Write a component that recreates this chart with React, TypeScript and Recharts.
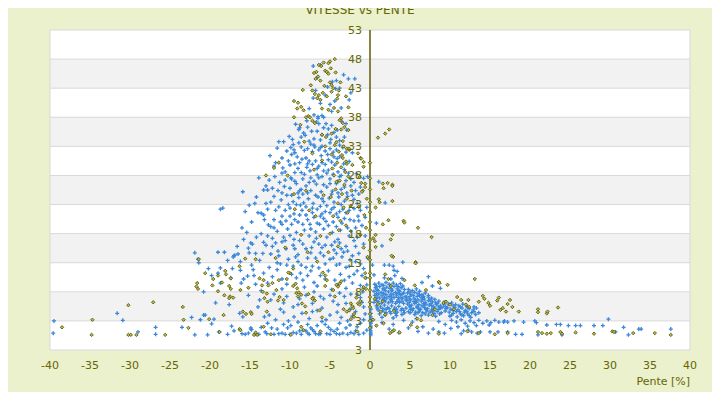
import { ScatterChart, Scatter, XAxis, YAxis, CartesianGrid, ReferenceLine, ReferenceDot } from 'recharts';

const TEXT = '#666600';
const BLUE = '#3b87d9';
const OLIVE = '#5c5c00';
const OLIVE_FILL = '#b8b860';

const xTicks = [-40, -35, -30, -25, -20, -15, -10, -5, 0, 5, 10, 15, 20, 25, 30, 35, 40];
const yTicks = [-2, 3, 8, 13, 18, 23, 28, 33, 38, 43, 48, 53];
// labels as printed in the original, bottom to top
const yTickLabels = ['3', '3', '8', '13', '18', '23', '28', '33', '38', '43', '48', '53'];

// blue series (+), downhill side
const blueTop = [
  [-7.1, 46.8], [-6.2, 47.0], [-3.3, 45.3], [-2.7, 44.6], [-1.9, 44.6], [-4.7, 44.1], [-4.2, 44.3], [-5.3, 43.2],
  [-4.3, 42.9], [-6.6, 44.8], [-3.8, 43.0], [-2.6, 41.0], [-7.1, 41.3], [-6.2, 40.4], [-5.0, 40.2], [-4.8, 39.0],
  [-7.0, 38.4], [-6.5, 38.1], [-6.0, 38.3], [-5.8, 38.0], [-3.6, 39.6], [-2.4, 42.2], [-5.6, 41.8], [-7.6, 39.5],
  [-6.8, 42.6], [-4.4, 40.8],
  [-6.7, 37.2], [-6.4, 36.9], [-5.5, 36.9], [-5.2, 36.0], [-7.8, 36.3], [-4.5, 35.4], [-4.2, 34.6], [-3.8, 34.0],
  [-3.8, 33.2], [-8.3, 35.3], [-8.6, 34.6], [-11.4, 33.8], [-10.8, 33.8], [-9.3, 36.8], [-6.0, 35.0], [-7.0, 34.3],
  [-5.0, 33.6], [-7.4, 33.4], [-9.6, 33.3], [-6.5, 37.8], [-8.9, 35.9], [-2.9, 35.8], [-3.0, 36.9], [-10.1, 34.7],
  [-7.9, 37.4],
];

const blueMid = [
  [-11.6, 32.7], [-9.9, 32.8], [-9.5, 32.4], [-9.1, 31.2], [-9.4, 31.9], [-8.6, 32.9], [-8.2, 32.3], [-7.8, 32.6],
  [-7.2, 32.1], [-6.9, 32.9], [-6.4, 32.4], [-6.0, 33.0], [-5.6, 32.2], [-5.0, 32.6], [-4.6, 32.0], [-4.2, 32.4],
  [-8.0, 31.0], [-7.6, 30.5], [-7.2, 29.9], [-6.8, 30.5], [-6.4, 29.6], [-6.0, 30.2], [-5.6, 29.9], [-5.2, 30.7],
  [-4.8, 30.3], [-4.4, 29.8], [-3.8, 31.2], [-9.4, 30.0], [-9.0, 29.2], [-8.6, 28.5], [-9.4, 28.5], [-10.9, 29.3],
  [-10.6, 28.6], [-9.9, 27.6], [-12.5, 31.4], [-11.0, 31.0], [-3.2, 29.0], [-2.6, 30.4], [-2.2, 31.9], [-1.7, 28.3],
  [-5.4, 28.4], [-6.6, 28.1], [-7.5, 28.8], [-8.2, 28.2], [-4.0, 28.6], [-3.4, 32.8], [-12.0, 29.6], [-10.2, 30.5],
  [-13.9, 27.6], [-13.3, 25.5], [-12.8, 25.5], [-15.9, 25.2], [-11.3, 26.8], [-10.7, 26.1], [-10.0, 25.8], [-9.2, 26.6],
  [-8.6, 25.6], [-8.0, 26.2], [-7.4, 25.4], [-6.7, 26.5], [-6.1, 25.2], [-5.4, 26.0], [-4.7, 25.3], [-4.2, 26.6],
  [-3.6, 25.6], [-2.9, 25.0], [-2.4, 26.2], [-12.0, 24.4], [-11.1, 23.8], [-10.4, 24.6], [-9.6, 23.5], [-8.9, 24.2],
  [-8.3, 23.3], [-7.7, 24.0], [-7.1, 23.2], [-6.5, 24.3], [-5.8, 23.5], [-5.1, 24.1], [-4.5, 23.4], [-3.9, 24.3],
  [-3.2, 23.6], [-2.0, 23.9], [-1.4, 24.8], [-15.1, 22.9], [-14.2, 24.3], [-12.6, 27.2], [-9.8, 27.4], [-7.0, 27.0],
  [-5.0, 27.4], [-3.0, 27.1], [-1.2, 26.0], [-0.8, 27.5], [-13.0, 23.2], [-6.2, 22.7], [-8.7, 22.9],
  [-8.8, 36.2], [-7.3, 35.6], [-6.2, 34.1], [-5.3, 35.0], [-4.8, 36.6], [-3.5, 37.2], [-9.8, 31.6], [-8.5, 30.8],
  [-7.9, 29.4], [-6.1, 31.4], [-5.2, 28.9], [-4.1, 30.9], [-3.3, 30.0], [-10.6, 27.2], [-9.0, 25.0], [-7.6, 26.8],
  [-6.4, 27.6], [-5.8, 26.4], [-3.8, 27.8], [-2.7, 28.4], [-11.5, 25.4], [-10.2, 23.0], [-8.4, 24.8], [-7.2, 22.4],
  [-5.4, 22.8], [-3.4, 22.2], [-2.2, 24.6], [-1.6, 23.2],
  [-9.7, 34.2], [-8.1, 34.9], [-7.6, 33.9], [-6.6, 35.6], [-5.8, 36.2], [-4.9, 34.2], [-4.1, 35.8], [-3.2, 34.6],
  [-10.4, 32.2], [-8.9, 33.6], [-7.0, 33.2], [-6.2, 32.8], [-5.3, 31.6], [-4.5, 31.2], [-3.0, 32.0], [-11.8, 30.2],
  [-10.0, 29.8], [-8.8, 30.2], [-7.8, 30.0], [-6.6, 29.2], [-5.8, 28.8], [-4.6, 28.2], [-3.6, 28.0], [-2.4, 27.4],
  [-11.9, 27.8], [-11.0, 28.4], [-9.4, 27.0], [-8.4, 27.4], [-7.4, 27.6], [-6.0, 27.8], [-5.0, 26.6], [-4.0, 27.0],
  [-3.2, 26.0], [-2.0, 26.8], [-13.0, 26.2], [-12.2, 25.8], [-11.0, 25.0], [-9.8, 24.6], [-8.8, 25.4], [-7.8, 25.0],
  [-6.8, 24.6], [-6.0, 24.0], [-4.8, 24.8], [-4.0, 25.0], [-2.8, 24.4], [-1.8, 25.4], [-14.4, 23.2], [-12.4, 23.4],
];

const blueLow = [
  [-18.7, 22.2], [-18.4, 22.4], [-13.6, 21.5], [-13.3, 21.2], [-12.7, 19.5], [-12.4, 19.2], [-11.8, 22.0], [-11.0, 21.0],
  [-10.5, 20.2], [-10.0, 22.4], [-9.5, 21.4], [-9.0, 20.0], [-8.5, 22.0], [-8.0, 21.2], [-7.5, 19.6], [-7.0, 20.8],
  [-6.6, 22.2], [-6.0, 21.4], [-5.5, 20.1], [-5.0, 21.6], [-4.5, 22.5], [-4.0, 20.8], [-3.5, 19.8], [-3.0, 21.6],
  [-2.5, 20.4], [-2.0, 22.3], [-1.5, 21.0], [-1.0, 19.4], [-14.8, 20.0], [-16.0, 19.0], [-11.6, 18.4], [-10.3, 18.8],
  [-9.2, 18.2], [-8.2, 18.6], [-6.8, 18.3], [-5.8, 18.8], [-4.7, 18.2], [-3.7, 18.6], [-2.4, 18.4], [-1.8, 19.0],
  [-0.6, 20.8], [-0.4, 22.5], [-15.6, 21.8], [-12.0, 20.4],
  [-12.8, 22.2], [-11.2, 20.0], [-9.8, 19.6], [-8.8, 21.2], [-7.8, 20.4], [-6.3, 19.6], [-5.2, 19.4], [-4.2, 19.2],
  [-3.2, 20.6], [-2.0, 20.2], [-13.6, 18.0], [-12.2, 17.2], [-10.8, 17.4], [-9.6, 16.0], [-8.0, 15.4], [-7.0, 16.6],
  [-6.0, 15.6], [-4.4, 16.6], [-3.6, 15.4], [-2.6, 17.6], [-1.6, 17.4], [-15.8, 17.0], [-16.6, 15.8], [-12.2, 15.8],
  [-14.9, 16.4], [-14.7, 16.2], [-21.9, 14.7], [-21.5, 13.6], [-19.0, 14.8], [-18.2, 14.8], [-17.1, 14.0], [-16.9, 14.3],
  [-15.2, 15.5], [-14.3, 14.6], [-13.3, 16.5], [-11.5, 15.0], [-11.0, 16.6], [-10.5, 15.4], [-9.5, 17.0], [-9.0, 14.4],
  [-8.4, 16.2], [-7.8, 13.8], [-7.3, 15.6], [-6.7, 17.2], [-6.2, 14.7], [-5.6, 16.0], [-5.0, 13.6], [-4.5, 15.2],
  [-4.0, 17.0], [-3.5, 14.0], [-3.0, 15.8], [-2.5, 13.5], [-2.0, 16.8], [-1.4, 14.6], [-0.8, 16.2], [-0.3, 13.8],
  [-13.4, 14.6], [-12.4, 14.5], [-11.6, 13.0], [-11.2, 12.8], [-9.3, 14.0], [-7.4, 14.7], [-3.3, 14.8], [-18.7, 12.1],
  [-16.5, 14.5], [-17.0, 14.2], [-15.1, 14.7], [-12.8, 17.6], [-10.0, 17.7],
  [-10.2, 13.6], [-8.6, 12.6], [-7.2, 12.4], [-5.6, 12.8], [-4.6, 13.8], [-3.0, 12.2], [-1.8, 13.2], [-0.8, 12.0],
  [-21.4, 13.0], [-20.8, 8.0], [-18.7, 9.5], [-16.2, 11.7], [-16.1, 9.5], [-15.3, 10.7], [-14.5, 10.8], [-14.3, 9.3],
  [-13.3, 11.2], [-12.8, 9.5], [-11.6, 11.8], [-10.4, 9.3], [-8.7, 11.2], [-7.8, 10.8], [-6.4, 12.1], [-3.7, 11.0],
  [-2.6, 12.4], [-2.2, 9.5], [-1.2, 9.1], [-0.9, 8.0], [-9.6, 12.4], [-8.2, 8.8], [-7.0, 9.6], [-5.6, 10.2],
  [-4.8, 8.4], [-4.2, 12.6], [-3.0, 8.6], [-1.6, 11.6], [-0.5, 10.4], [-11.0, 8.5], [-13.6, 8.2], [-17.4, 10.4],
  [-19.8, 10.8], [-9.2, 10.4], [-6.2, 10.8], [-4.4, 10.0], [-2.6, 10.6], [-1.0, 10.8],
  [-11.4, 22.6], [-10.6, 22.0], [-9.2, 23.0], [-8.0, 22.6], [-7.2, 21.6], [-6.2, 21.0], [-5.6, 21.8], [-4.8, 22.2],
  [-4.2, 21.4], [-3.6, 23.0], [-2.6, 22.0], [-1.2, 22.0], [-14.0, 21.6], [-13.2, 20.4], [-12.0, 19.0], [-11.0, 19.6],
  [-10.0, 21.0], [-9.4, 20.4], [-8.4, 19.6], [-7.4, 18.8], [-6.6, 19.8], [-5.8, 20.6], [-4.6, 20.0], [-3.8, 21.8],
  [-2.8, 19.0], [-1.4, 20.2], [-15.4, 18.2], [-14.2, 17.4], [-13.0, 16.0], [-11.8, 16.4], [-10.6, 16.8], [-9.4, 15.4],
  [-8.8, 16.8], [-7.6, 17.6], [-6.4, 16.2], [-5.4, 17.4], [-4.8, 16.0], [-3.8, 16.4], [-2.8, 15.0], [-1.8, 15.8],
  [-0.6, 17.6], [-17.8, 13.4], [-16.2, 13.2], [-14.8, 12.6], [-13.8, 13.4], [-12.6, 12.2], [-11.4, 14.2], [-10.4, 12.6],
  [-9.0, 13.2], [-8.0, 12.2], [-6.8, 13.8], [-5.8, 14.2], [-4.2, 14.6], [-3.8, 12.8], [-2.2, 14.2], [-1.2, 12.8],
  [-20.2, 12.0], [-19.0, 11.2], [-17.2, 12.0], [-15.8, 10.2], [-14.6, 11.8], [-12.2, 10.6], [-11.0, 10.2], [-9.8, 11.0],
  [-8.4, 10.0], [-7.4, 11.6], [-6.6, 9.0], [-5.2, 11.6], [-4.0, 9.2], [-3.2, 10.0], [-2.0, 11.0], [-0.4, 9.2],
];

const blueFloor = [
  [-22.3, 3.6], [-21.2, 3.2], [-20.8, 4.0], [-20.6, 4.0], [-19.5, 3.3], [-19.3, 6.1], [-16.3, 4.3], [-15.9, 3.7],
  [-13.2, 3.7], [-11.8, 3.2], [-10.8, 4.5], [-10.8, 6.1], [-9.5, 3.7], [-8.5, 4.3], [-7.2, 6.0], [-5.8, 6.8],
  [-5.5, 3.2], [-4.1, 4.5], [-2.5, 5.0], [-2.2, 3.8], [-1.0, 6.2], [-0.6, 4.2], [-3.2, 7.2], [-6.6, 4.8],
  [-8.0, 7.4], [-12.4, 6.6], [-14.0, 5.4], [-9.6, 5.4], [-4.6, 6.4], [-3.6, 3.6], [-1.6, 7.6], [-7.6, 3.4],
  [-17.6, 5.8], [-15.2, 7.4],
  [-39.5, 3.0], [-39.6, 0.9], [-31.6, 4.3], [-30.9, 3.1], [-29.0, 1.1], [-26.8, 1.9], [-26.8, 0.7], [-23.5, 1.9],
  [-21.9, 0.6], [-20.3, 0.6], [-18.9, 1.1], [-17.8, 0.7], [-17.3, 2.1], [-17.0, 1.3], [-14.9, 1.8], [-14.8, 1.5],
  [-14.9, 1.6], [-13.9, 0.7], [-13.1, 1.1], [-12.3, 1.8], [-10.3, 1.8], [-9.9, 2.2], [-8.8, 1.3], [-8.4, 1.4],
  [-8.0, 1.3], [-7.4, 1.8], [-7.2, 1.5], [-7.0, 1.2], [-4.9, 1.5], [-4.5, 1.2], [-4.1, 1.6], [-2.5, 2.3],
  [-11.4, 0.8], [-10.6, 0.7], [-6.2, 0.8], [-5.6, 2.4], [-3.4, 0.9], [-1.8, 1.3], [-1.2, 2.6], [-16.0, 0.8],
  [-19.8, 2.5], [-12.8, 2.6], [-9.2, 0.9], [-6.6, 2.2], [-3.0, 1.8], [-2.0, 0.8],
  [-15.6, 0.7], [-15.2, 0.9], [-14.4, 0.7], [-12.9, 0.8], [-12.0, 0.7], [-11.0, 0.9], [-10.0, 0.7], [-9.6, 1.0],
  [-8.6, 0.7], [-7.8, 0.9], [-7.6, 0.7], [-6.8, 0.8], [-6.4, 0.7], [-5.4, 0.8], [-5.0, 0.7], [-4.2, 0.8],
  [-3.8, 0.7], [-2.8, 0.7], [-2.4, 1.0], [-1.4, 0.7], [-0.8, 0.9], [-0.4, 1.4], [-13.6, 1.9], [-11.6, 1.6],
  [-10.8, 2.4], [-9.0, 2.8], [-7.8, 2.4], [-6.0, 2.9], [-5.2, 1.9], [-3.8, 2.6], [-2.8, 3.0], [-1.6, 2.0],
  [-0.8, 3.2], [-12.6, 4.0], [-11.2, 5.0], [-10.2, 3.0], [-9.0, 5.8], [-7.2, 4.6], [-6.0, 5.2], [-5.0, 4.0],
  [-4.0, 5.8], [-3.0, 6.0], [-1.8, 4.6], [-0.8, 5.4], [-13.8, 6.6], [-12.0, 7.6], [-10.4, 7.2], [-8.8, 6.8],
  [-7.0, 8.0], [-6.2, 7.2], [-5.0, 7.4], [-3.8, 7.8], [-2.4, 7.6], [-1.2, 7.0],
];

// blue series, at zero slope and uphill side
const blueZero = [
  [0.1, 0.6], [0.1, 0.9], [0.1, 1.3], [0.1, 1.8], [0.1, 2.1], [0.1, 2.6], [0.1, 2.9], [0.1, 3.3], [0.1, 3.7],
  [0.1, 4.3], [0.1, 5.0], [-0.3, 27.8], [1.1, 26.9], [1.9, 23.3], [0.8, 19.8], [1.5, 15.9], [4.1, 13.1], [3.4, 11.5],
  [2.9, 12.4], [1.8, 12.6], [2.4, 12.6], [3.0, 11.7], [7.3, 10.6], [0.5, 10.9], [0.3, 12.6],
];

const blueClimb = [
  [0.6, 9.3], [1.1, 9.5], [1.5, 9.2], [2.0, 9.6], [2.4, 9.3], [2.9, 9.5], [3.3, 9.2], [3.8, 9.4], [4.1, 9.0],
  [0.7, 8.7], [1.2, 8.9], [1.6, 8.5], [2.1, 8.8], [2.5, 8.6], [3.0, 8.9], [3.4, 8.5], [3.9, 8.7], [4.3, 8.4],
  [0.5, 8.1], [1.0, 8.2], [1.4, 7.9], [1.9, 8.2], [2.3, 8.0], [2.8, 8.3], [3.2, 7.9], [3.7, 8.1], [4.2, 7.8],
  [0.6, 7.4], [1.1, 7.6], [1.5, 7.3], [2.0, 7.5], [2.4, 7.2], [2.9, 7.6], [3.3, 7.3], [3.8, 7.5], [4.4, 7.2],
  [0.7, 6.8], [1.2, 6.9], [1.6, 6.6], [2.1, 6.9], [2.6, 6.7], [3.0, 7.0], [3.5, 6.6], [3.9, 6.9], [4.5, 6.6],
  [0.5, 6.2], [1.0, 6.3], [1.4, 6.0], [1.9, 6.4], [2.3, 6.1], [2.8, 6.3], [3.2, 6.0], [3.7, 6.2], [4.2, 6.0],
  [0.8, 9.0], [1.7, 9.1], [2.6, 9.0], [3.5, 8.9], [0.9, 8.4], [1.8, 8.5], [2.7, 8.2], [3.6, 8.2], [0.8, 7.7],
  [1.7, 7.7], [2.6, 7.6], [3.5, 7.7], [4.0, 7.6], [0.9, 7.1], [1.8, 7.0], [2.7, 7.1], [3.6, 7.0], [4.1, 6.9],
  [0.8, 6.5], [1.7, 6.5], [2.6, 6.4], [3.4, 6.3], [4.0, 6.4],
  [4.8, 8.4], [5.3, 8.2], [5.8, 8.5], [6.2, 8.1],
  [4.7, 7.8], [5.1, 7.6], [5.6, 7.9], [6.0, 7.7], [6.5, 7.5], [6.9, 7.8], [7.3, 7.4],
  [4.6, 7.1], [5.0, 7.2], [5.5, 6.9], [5.9, 7.2], [6.4, 7.0], [6.8, 6.8], [7.3, 7.1], [7.7, 6.9], [8.1, 6.7],
  [4.6, 6.5], [5.1, 6.6], [5.5, 6.3], [6.0, 6.6], [6.4, 6.4], [6.9, 6.2], [7.3, 6.5], [7.8, 6.3], [8.2, 6.1], [8.6, 6.4],
  [4.7, 5.9], [5.2, 5.7], [5.6, 6.0], [6.1, 5.8], [6.5, 5.6], [7.0, 5.9], [7.4, 5.7], [7.9, 5.5], [8.3, 5.8], [8.8, 5.6], [9.2, 5.9],
  [4.5, 5.2], [5.0, 5.4], [5.4, 5.1], [5.9, 5.3], [6.3, 5.0], [6.8, 5.3], [7.2, 5.1], [7.7, 4.9], [8.1, 5.2], [8.6, 5.0], [9.0, 5.3], [9.5, 5.1],
  [4.8, 4.6], [5.3, 4.8], [5.7, 4.5], [6.2, 4.7], [6.6, 4.4], [7.1, 4.7], [7.5, 4.5], [8.0, 4.3], [8.4, 4.6], [8.9, 4.4], [9.4, 4.7],
  [5.6, 4.1], [6.4, 3.9], [7.3, 4.0], [8.2, 3.8],
  [5.0, 8.0], [5.4, 7.4], [6.2, 7.4], [6.7, 7.2], [4.9, 6.8], [5.7, 6.6], [6.6, 6.7], [7.5, 6.6], [4.9, 6.2],
  [5.8, 6.2], [6.7, 6.0], [7.6, 6.0], [8.4, 6.0], [5.0, 5.6], [5.9, 5.5], [6.8, 5.6], [7.7, 5.6], [8.6, 5.4],
  [9.4, 5.5], [5.1, 5.0], [6.1, 5.1], [7.0, 5.0], [7.9, 5.0], [8.8, 5.2], [5.0, 4.4], [6.0, 4.4], [6.9, 4.2],
  [7.8, 4.6], [8.7, 4.2],
  [0.8, 5.6], [1.3, 5.4], [1.8, 5.7], [2.2, 5.3], [2.7, 5.6], [3.1, 5.2], [3.6, 5.5], [4.0, 5.1],
  [1.0, 4.9], [1.6, 4.7], [2.0, 5.0], [2.5, 4.6], [3.0, 4.9], [3.4, 4.5], [3.9, 4.8], [4.3, 4.4],
  [1.2, 4.2], [1.9, 4.0], [2.6, 4.3], [3.3, 3.9], [4.0, 4.1], [1.5, 3.6], [2.9, 3.5],
  [2.0, 4.4], [3.2, 4.3], [0.9, 5.2], [1.6, 5.1], [2.4, 5.1], [3.3, 5.0], [4.2, 4.8],
  [9.3, 6.2], [9.8, 5.9], [10.2, 6.1], [10.7, 5.8], [11.1, 5.6], [11.6, 5.9], [12.1, 5.5],
  [9.7, 5.3], [10.1, 5.0], [10.6, 5.3], [11.0, 4.9], [11.5, 5.2], [11.9, 4.8], [12.4, 5.1], [12.9, 4.9], [13.3, 5.2],
  [9.9, 4.5], [10.4, 4.3], [10.8, 4.6], [11.3, 4.2], [11.8, 4.5], [12.2, 4.2], [12.7, 4.4], [13.2, 4.1], [13.6, 4.4],
  [10.0, 3.8], [10.9, 3.7], [11.7, 3.9], [12.6, 3.6],
  [10.4, 5.6], [11.3, 5.4], [12.2, 5.3], [13.0, 5.4], [10.4, 4.8], [11.2, 4.6], [12.1, 4.6], [13.0, 4.6], [10.2, 4.0],
  [11.5, 4.0], [12.4, 3.9],
  [1.8, 10.4], [2.6, 10.2], [3.1, 10.8], [4.0, 10.3], [6.5, 9.6], [7.8, 9.0], [8.8, 8.6],
];

const blueTail = [
  [10.2, 3.1], [10.8, 2.8], [11.4, 3.2], [11.9, 2.6], [12.5, 3.0], [13.0, 2.7], [13.6, 3.1], [14.1, 2.6], [14.6, 3.0],
  [15.1, 2.7], [15.6, 3.1], [16.1, 2.8], [16.8, 3.0], [13.3, 2.2], [14.9, 2.3], [12.2, 2.1], [11.0, 2.0], [9.4, 2.4],
  [8.6, 2.9], [2.4, 1.6], [2.9, 2.4], [3.6, 1.0], [4.8, 1.8], [5.3, 2.8], [6.0, 1.2], [6.6, 2.0], [7.3, 0.9],
  [7.9, 1.6], [8.6, 1.1], [9.3, 0.9], [10.1, 1.7], [11.4, 0.8], [12.3, 1.4], [13.4, 0.9], [1.5, 2.7], [4.2, 3.1],
  [5.8, 3.4], [18.0, 3.0], [19.2, 2.8], [20.6, 3.0], [20.8, 2.7], [22.1, 2.3], [23.3, 2.4], [23.8, 2.4], [24.8, 2.2],
  [25.7, 2.2], [26.3, 2.2], [28.0, 2.2], [29.1, 2.2], [29.8, 3.3], [30.7, 1.1], [31.7, 1.9], [32.3, 0.6], [33.6, 1.6],
  [33.9, 1.6], [37.6, 1.6], [24.0, 0.6], [18.2, 0.7], [19.0, 0.7], [17.2, 1.1], [16.0, 1.1], [15.0, 1.1], [13.8, 1.1],
  [12.7, 1.1], [11.7, 1.3], [16.7, 2.8], [17.2, 2.8], [21.0, 0.6],
];

// olive series (diamonds)
const olivePeak = [
  [-4.4, 48.0], [-5.2, 47.3], [-5.0, 47.6], [-6.4, 47.0], [-6.1, 46.8], [-5.6, 46.0], [-5.4, 45.8], [-5.2, 45.5],
  [-4.3, 45.7], [-6.7, 45.8], [-6.5, 45.0], [-6.2, 44.3], [-5.0, 44.0], [-4.8, 43.5], [-4.6, 43.0], [-3.7, 44.0],
  [-3.9, 42.6], [-4.0, 41.8], [-4.1, 41.2], [-3.0, 41.6], [-7.4, 43.5], [-7.2, 42.6], [-6.9, 42.0], [-6.6, 41.3],
  [-6.4, 41.8], [-6.2, 41.0], [-8.4, 42.7], [-9.5, 40.8], [-9.0, 40.5], [-8.6, 39.8], [-8.3, 39.2], [-9.5, 38.0],
  [-8.0, 38.0], [-7.7, 38.2], [-2.7, 39.7], [-6.0, 39.5], [-5.2, 39.3], [-4.5, 39.6], [-4.0, 39.0], [-3.6, 37.8],
  [-3.4, 37.0], [-3.2, 36.3], [-7.5, 38.0], [-7.2, 37.4], [-6.9, 37.0], [-5.9, 42.2], [-5.4, 41.6], [-4.8, 42.4],
  [-7.0, 45.6], [-6.8, 44.6], [-5.8, 47.4], [-4.9, 46.4], [-3.8, 37.5], [-4.3, 36.0], [-3.6, 35.9], [-2.7, 35.8],
  [-6.0, 35.0], [-5.5, 34.6], [-4.8, 35.2], [-4.2, 33.7], [-3.3, 33.0], [-2.9, 32.6], [-2.6, 32.4], [-1.5, 31.8],
  [-1.2, 31.0], [-0.8, 30.3], [-3.5, 31.5], [-2.9, 30.0], [-11.4, 30.2], [-12.0, 29.3], [-13.0, 28.0], [-10.3, 28.0],
  [-1.1, 26.7], [-0.6, 26.0], [-0.9, 25.4], [-8.7, 36.7], [-9.1, 39.5], [-5.7, 43.4],
];

const oliveColumn = [
  [-4.4, 33.2], [-3.9, 32.1], [-3.4, 31.0], [-4.1, 30.2], [-3.6, 29.4], [-3.1, 28.6], [-4.5, 28.0], [-3.8, 27.1],
  [-3.2, 26.4], [-4.3, 25.6], [-3.5, 24.8], [-2.9, 24.0], [-4.0, 23.2], [-3.3, 22.5], [-2.8, 21.6], [-4.6, 21.0],
  [-3.7, 20.2], [-3.0, 19.4], [-4.2, 26.9], [-2.7, 27.8], [-3.0, 30.4], [-4.8, 31.6], [-2.6, 32.6], [-4.9, 24.3],
  [-2.4, 22.8], [-3.9, 18.6], [-2.3, 25.4], [-4.7, 29.2], [-2.2, 29.8], [-3.4, 33.9],
  [-1.1, 30.9], [-0.8, 29.5], [-1.3, 27.7], [-0.6, 26.6], [-1.0, 25.2], [-0.4, 24.0], [-1.4, 22.6], [-0.7, 21.2],
  [-0.5, 19.0], [-1.2, 17.8], [-0.8, 15.6], [-0.3, 14.0],
  [-9.5, 24.8], [-8.0, 25.4], [-7.6, 22.0], [-6.8, 21.0], [-9.4, 22.2], [-6.2, 17.6], [-8.6, 17.8], [-5.0, 18.0],
  [-7.8, 14.8], [-10.6, 15.6], [-11.8, 13.8], [-6.6, 13.2], [-5.2, 14.8], [-4.0, 15.8], [-5.8, 24.6], [-7.0, 29.0],
  [-8.2, 33.8], [-7.2, 31.8], [-6.0, 30.6], [-5.6, 33.0],
];

const oliveLow = [
  [-38.5, 1.9], [-34.7, 3.2], [-34.8, 0.6], [-30.2, 5.7], [-30.2, 0.6], [-29.9, 0.6], [-29.2, 0.6], [-27.1, 6.2],
  [-25.6, 0.6], [-23.4, 5.4], [-23.3, 3.2], [-22.7, 1.8], [-21.6, 9.5], [-21.7, 8.9], [-21.5, 8.5], [-21.4, 13.6],
  [-20.6, 11.2], [-20.1, 3.3], [-19.7, 9.1], [-19.6, 10.2], [-18.8, 1.1], [-18.3, 4.0], [-18.1, 11.6], [-18.0, 11.0],
  [-17.4, 8.5], [-17.4, 10.3], [-17.5, 7.2], [-17.6, 6.9], [-17.1, 7.0], [-16.2, 8.3], [-16.3, 1.6], [-16.2, 1.4],
  [-15.9, 4.6], [-15.5, 4.2], [-14.9, 4.5], [-14.8, 4.2], [-15.2, 8.7], [-14.5, 0.6], [-14.1, 0.6], [-14.3, 1.0],
  [-13.5, 9.1], [-13.4, 8.0], [-13.2, 6.9], [-13.3, 2.0], [-12.9, 7.7], [-12.8, 6.3], [-12.9, 4.6], [-12.4, 0.7],
  [-11.7, 8.3], [-11.3, 7.1], [-11.5, 6.5], [-10.8, 6.6], [-10.4, 10.2], [-10.0, 11.2], [-9.6, 9.0], [-9.9, 0.6],
  [-9.2, 7.8], [-9.0, 7.2], [-8.6, 7.5], [-8.6, 2.0], [-8.3, 1.4], [-8.5, 6.0], [-8.1, 5.5], [-8.0, 4.4],
  [-7.1, 7.0], [-6.9, 6.5], [-6.3, 4.8], [-6.0, 3.6], [-6.2, 1.2], [-5.6, 9.0], [-5.4, 10.0], [-4.6, 8.3],
  [-4.4, 7.2], [-4.2, 9.2], [-4.0, 8.9], [-3.8, 9.4], [-3.6, 9.8], [-3.3, 5.0], [-2.9, 4.6], [-2.6, 4.8],
  [-2.4, 6.0], [-2.2, 5.5], [-2.1, 5.2], [-2.0, 4.2], [-2.4, 3.3], [-2.0, 3.7], [-1.6, 1.2], [-1.7, 7.0],
  [-1.5, 6.0], [-1.3, 5.8], [-1.2, 6.4], [-0.8, 8.8], [-0.9, 8.4], [-0.5, 8.5], [-0.6, 10.4], [-0.6, 11.2],
  [-19.0, 10.8], [-18.5, 9.6], [-17.6, 9.0], [-19.0, 8.1], [-18.2, 7.4], [-16.3, 12.4], [-15.6, 13.7], [-14.3, 13.6],
  [-13.8, 10.3], [-13.3, 10.0], [-12.7, 9.1], [-12.2, 9.5], [-11.4, 10.0], [-10.2, 11.3], [-9.6, 12.0], [-9.3, 9.4],
  [-9.1, 8.6], [-8.9, 7.9], [-7.7, 7.6], [-7.2, 6.8], [-5.9, 11.3], [-5.6, 10.8],
];

const oliveZero = [
  [0, 30.2], [0, 27.5], [0, 25.6], [0, 23.4], [0, 21.7], [0, 20.0], [0, 18.6], [0, 16.9], [0, 15.1], [0, 13.5],
  [0, 11.2], [0, 10.4], [0, 8.3], [0, 7.1], [0, 6.2], [0, 5.4], [0, 4.2], [0, 3.0], [0, 1.8],
];

const oliveClimb = [
  [1.0, 34.5], [1.9, 35.2], [2.4, 35.9], [1.6, 26.6], [2.2, 26.7], [2.8, 26.4], [2.8, 26.2], [1.7, 25.8], [1.1, 23.9],
  [1.2, 23.4], [2.8, 23.6], [0.7, 22.5], [2.3, 20.3], [1.6, 19.6], [4.2, 20.2], [4.3, 19.9], [6.0, 19.0], [0.7, 17.8],
  [0.4, 17.2], [0.6, 16.7], [2.8, 17.8], [2.6, 17.0], [7.7, 17.4], [0.7, 15.7], [2.9, 14.0], [2.7, 14.2], [5.7, 13.1],
  [5.7, 12.9], [1.9, 11.0], [2.3, 10.2], [2.6, 9.0], [4.3, 10.0], [5.6, 9.1], [7.0, 8.3], [8.6, 9.7], [8.7, 9.5],
  [9.7, 9.2], [13.1, 10.2], [9.2, 6.1], [10.9, 7.1], [11.4, 6.6], [12.3, 6.6], [12.0, 5.8], [12.4, 5.4], [13.6, 6.3],
  [14.1, 7.3], [14.3, 6.8], [14.8, 6.1], [15.0, 5.6], [15.9, 6.5], [16.1, 7.0], [16.3, 4.9], [16.6, 5.2], [17.2, 5.9],
  [17.5, 6.6], [17.8, 5.4], [18.6, 4.6], [17.0, 4.6], [9.5, 6.3], [10.0, 5.8], [10.5, 5.0], [8.1, 5.0], [7.8, 4.0],
  [5.9, 3.4], [6.4, 3.1], [2.8, 1.2], [3.0, 1.4], [3.7, 1.0], [2.5, 0.9], [1.7, 2.6], [5.1, 2.3], [5.9, 1.9],
  [8.6, 0.8], [12.2, 1.2], [13.6, 0.9], [15.6, 0.7], [17.2, 0.9], [21.0, 5.0], [21.0, 4.5], [22.1, 4.3], [22.2, 4.6],
  [23.5, 5.3], [21.0, 1.1], [21.5, 0.9], [22.1, 0.8], [22.6, 0.9], [23.8, 1.1], [24.0, 0.8], [25.7, 1.0], [28.0, 0.8],
  [30.3, 1.2], [30.5, 1.1], [32.9, 0.9], [35.6, 0.9], [37.6, 0.6],
  [0.6, 6.8], [1.0, 5.9], [1.3, 4.6], [1.9, 4.1], [3.0, 4.7], [1.6, 6.4], [0.4, 3.2], [0.8, 2.2],
];

const toPoints = (rows: number[][]) => rows.map(([x, y]) => ({ x, y }));

const bluePoints = toPoints([...blueTop, ...blueMid, ...blueLow, ...blueFloor, ...blueZero, ...blueClimb, ...blueTail]);
const olivePoints = toPoints([...olivePeak, ...oliveColumn, ...oliveLow, ...oliveZero, ...oliveClimb]);

const PlusMark = (props: any) => {
  const { cx, cy } = props;
  return <path d={`M${cx - 2},${cy}h4M${cx},${cy - 2}v4`} stroke={BLUE} strokeWidth={1.3} fill="none" />;
};

const DiamondMark = (props: any) => {
  const { cx, cy } = props;
  const r = 1.7;
  return (
    <path
      d={`M${cx},${cy - r}L${cx + r},${cy}L${cx},${cy + r}L${cx - r},${cy}Z`}
      stroke={OLIVE}
      strokeWidth={0.9}
      fill={OLIVE_FILL}
    />
  );
};

export default function App() {
  return (
    <div style={{ position: 'relative', width: 720, height: 400, margin: -8, background: '#ebf0cd', fontFamily: 'DejaVu Sans' }}>
      <ScatterChart width={720} height={400} margin={{ top: 30, right: 30, bottom: 20, left: 50 }}>
        <text x={360} y={14} textAnchor="middle" fontSize={12} fill={TEXT}>
          VITESSE vs PENTE
        </text>
        <CartesianGrid vertical={false} stroke="#d9d9d9" horizontalFill={['#ffffff', '#f2f2f2']} fillOpacity={1} />
        <XAxis
          type="number"
          dataKey="x"
          domain={[-40, 40]}
          ticks={xTicks}
          interval={0}
          axisLine={false}
          tickLine={false}
          tickMargin={5}
          height={30}
          tick={{ fontSize: 11, fill: TEXT }}
        />
        <YAxis type="number" dataKey="y" domain={[-2, 53]} ticks={yTicks} hide />
        <ReferenceLine x={-40} stroke="#d9d9d9" />
        <ReferenceLine x={40} stroke="#d9d9d9" />
        <ReferenceLine x={0} stroke="#5e5e00" strokeWidth={1.5} />
        {yTicks.map((v, i) => (
          <ReferenceDot
            key={`yl-${v}`}
            x={0}
            y={v}
            r={0}
            stroke="none"
            fill="none"
            label={{ value: yTickLabels[i], position: 'left', offset: 8, fill: TEXT, fontSize: 11 }}
          />
        ))}
        <Scatter data={bluePoints} shape={PlusMark} isAnimationActive={false} />
        <Scatter data={olivePoints} shape={DiamondMark} isAnimationActive={false} />
        <text x={690} y={385} textAnchor="end" fontSize={11} fill={TEXT}>
          Pente [%]
        </text>
      </ScatterChart>
    </div>
  );
}
